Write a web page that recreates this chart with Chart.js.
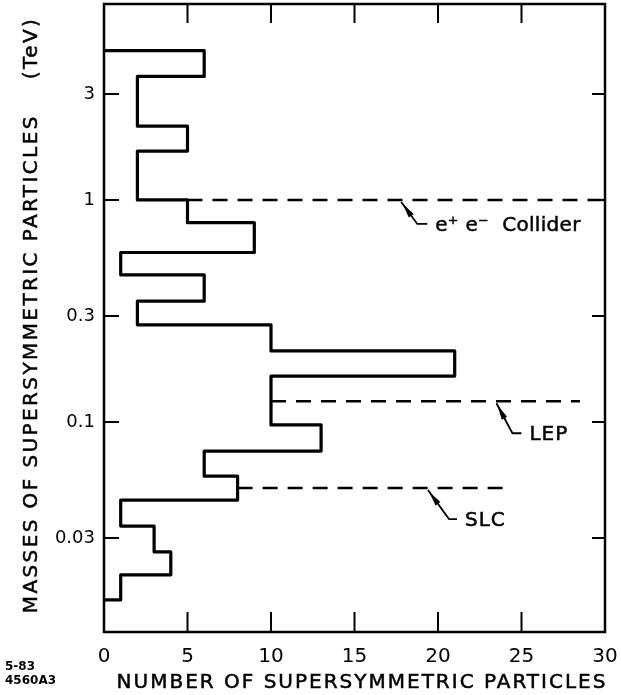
<!DOCTYPE html>
<html>
<head>
<meta charset="utf-8">
<script src="https://cdn.jsdelivr.net/npm/chart.js@4.4.1/dist/chart.umd.min.js"></script>
<style>
  html, body { margin: 0; background: #fff; }
</style>
</head>
<body>
<canvas id="masses" width="621" height="695"></canvas>
<script>
// bin edges (TeV), top to bottom, and number of particles in each bin
const binEdges = [4.7, 3.6, 2.15, 1.66, 1.0, 0.79, 0.58, 0.46, 0.35, 0.274, 0.209, 0.161, 0.097, 0.074, 0.057, 0.0445, 0.034, 0.026, 0.0205, 0.0158];
const binCounts = [6, 2, 5, 2, 5, 9, 1, 6, 2, 10, 21, 10, 13, 6, 8, 1, 3, 4, 1];

const xTicks = [0, 5, 10, 15, 20, 25, 30];
const yTicks = [3, 1, 0.3, 0.1, 0.03];
const yTickLabels = ['3', '1', '0.3', '0.1', '0.03'];

// machine reach lines
const machineNames = ['e\u207A e\u207B  Collider', 'LEP', 'SLC'];
const machineMass = [1, 0.124, 0.0504];
const machineFrom = [5, 10, 8];
const machineTo = [30, 28.5, 24.2];
const arrowAt = [17.8, 23.5, 19.4];

// leader offsets in px: [dx, dy, run]
const leaders = [[16, 22, 10], [16, 30, 9], [21, 29, 8]];

const FONT = "'DejaVu Sans', sans-serif";

// outline of the histogram as a step path
const outline = [{ x: 0, y: binEdges[0] }];
binCounts.forEach((c, i) => {
  outline.push({ x: c, y: binEdges[i] });
  outline.push({ x: c, y: binEdges[i + 1] });
});
outline.push({ x: 0, y: binEdges[binEdges.length - 1] });

const lineSets = machineMass.map((m, i) => ({
  data: [{ x: machineFrom[i], y: m }, { x: machineTo[i], y: m }],
  borderColor: '#000',
  borderWidth: 2.5,
  borderDash: [15, 10],
  pointRadius: 0
}));

function heavyText(ctx, s, x, y) {
  ctx.fillText(s, x, y);
  ctx.strokeText(s, x, y);
}

const frame = {
  id: 'frame',
  afterDraw(chart) {
    const { ctx, chartArea: a, scales: { x, y } } = chart;
    ctx.save();
    ctx.strokeStyle = '#000';
    ctx.fillStyle = '#000';
    ctx.lineWidth = 2.5;
    ctx.strokeRect(a.left, a.top, a.right - a.left, a.bottom - a.top);

    // inward ticks on all four sides
    ctx.lineWidth = 2;
    ctx.beginPath();
    xTicks.slice(1, -1).forEach(v => {
      const p = x.getPixelForValue(v);
      ctx.moveTo(p, a.bottom); ctx.lineTo(p, a.bottom - 20);
      ctx.moveTo(p, a.top); ctx.lineTo(p, a.top + 19);
    });
    yTicks.forEach(v => {
      const p = y.getPixelForValue(v);
      ctx.moveTo(a.left, p); ctx.lineTo(a.left + 15, p);
      ctx.moveTo(a.right, p); ctx.lineTo(a.right - 13, p);
    });
    ctx.stroke();

    // arrows and machine names
    ctx.font = '20px ' + FONT;
    ctx.textBaseline = 'alphabetic';
    machineNames.forEach((name, i) => {
      const tx = x.getPixelForValue(arrowAt[i]);
      const ty = y.getPixelForValue(machineMass[i]) + 2;
      const [dx, dy, run] = leaders[i];
      ctx.lineWidth = 1.8;
      ctx.beginPath();
      ctx.moveTo(tx, ty);
      ctx.lineTo(tx + dx, ty + dy);
      ctx.lineTo(tx + dx + run, ty + dy);
      ctx.stroke();
      const len = Math.hypot(dx, dy), ux = dx / len, uy = dy / len;
      ctx.beginPath();
      ctx.moveTo(tx + ux * 2, ty + uy * 2);
      ctx.lineTo(tx + ux * 17 - uy * 3, ty + uy * 17 + ux * 3);
      ctx.lineTo(tx + ux * 17 + uy * 3, ty + uy * 17 - ux * 3);
      ctx.closePath();
      ctx.fill();
      ctx.lineWidth = 0.5;
      ctx.letterSpacing = i === 0 ? '0.3px' : '1px';
      heavyText(ctx, name, tx + dx + run + 8, ty + dy + 7);
    });

    // axis titles
    ctx.lineWidth = 0.5;
    ctx.letterSpacing = '2px';
    ctx.textAlign = 'center';
    ctx.textBaseline = 'middle';
    heavyText(ctx, 'NUMBER OF SUPERSYMMETRIC PARTICLES', 362, 683);
    ctx.save();
    ctx.translate(32, 315);
    ctx.rotate(-Math.PI / 2);
    ctx.letterSpacing = '2.4px';
    heavyText(ctx, 'MASSES OF SUPERSYMMETRIC PARTICLES    (TeV)', 0, 0);
    ctx.restore();

    // figure code
    ctx.letterSpacing = '0px';
    ctx.textAlign = 'left';
    ctx.font = 'bold 12px ' + FONT;
    ctx.fillText('5-83', 5, 667);
    ctx.fillText('4560A3', 5, 681);
    ctx.restore();
  }
};

new Chart(document.getElementById('masses'), {
  type: 'line',
  data: {
    datasets: [{
      data: outline,
      borderColor: '#000',
      borderWidth: 3.2,
      borderJoinStyle: 'round',
      pointRadius: 0,
      tension: 0
    }, ...lineSets]
  },
  options: {
    responsive: false,
    animation: false,
    devicePixelRatio: 1,
    layout: { autoPadding: false, padding: { top: 4, right: 16, left: 0, bottom: 0 } },
    plugins: { legend: { display: false }, tooltip: { enabled: false } },
    scales: {
      x: {
        type: 'linear',
        min: 0,
        max: 30,
        grid: { display: false, drawTicks: false },
        border: { display: false },
        afterBuildTicks: s => { s.ticks = xTicks.map(v => ({ value: v })); },
        afterFit: s => { s.height = 63; s.paddingLeft = 0; s.paddingRight = 0; },
        ticks: { color: '#000', padding: 13, font: { family: FONT, size: 20 } }
      },
      y: {
        type: 'logarithmic',
        min: 0.01133,
        max: 7.63,
        grid: { display: false, drawTicks: false },
        border: { display: false },
        afterBuildTicks: s => { s.ticks = yTicks.map(v => ({ value: v })); },
        afterFit: s => { s.width = 104; s.paddingTop = 0; s.paddingBottom = 0; },
        ticks: {
          color: '#000',
          padding: 9,
          autoSkip: false,
          font: { family: FONT, size: 18 },
          callback: v => yTickLabels[yTicks.indexOf(v)]
        }
      }
    }
  },
  plugins: [frame]
});
</script>
</body>
</html>
